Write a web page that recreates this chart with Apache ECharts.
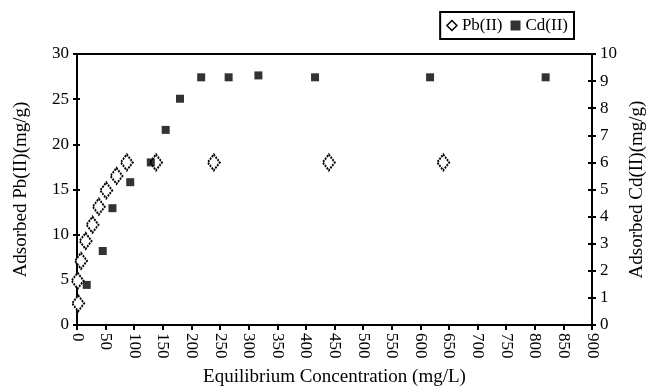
<!DOCTYPE html>
<html><head><meta charset="utf-8">
<script src="https://cdn.jsdelivr.net/npm/echarts@6/dist/echarts.min.js"></script>
<style>html,body{margin:0;padding:0;background:#fff}#c{width:646px;height:389px}</style>
</head><body><div id="c"></div>
<script>
const xTicks = [0,50,100,150,200,250,300,350,400,450,500,550,600,650,700,750,800,850,900];
const pbX = [2,1,7,15,27,38,51,69,87,138,239,440,640];
const pbY = [2.4,4.9,7.1,9.3,11.1,13.1,14.9,16.5,18.0,18.0,18.0,18.0,18.0];
const cdX = [17,45,62,93,129,155,180,217,265,317,416,617,819];
const cdY = [1.48,2.73,4.31,5.27,6.0,7.2,8.35,9.14,9.14,9.21,9.14,9.14,9.14];

const font = 'Liberation Serif';
const chart = echarts.init(document.getElementById('c'));
const tickStyle = {color:'#000',width:2};
chart.setOption({
  animation:false,
  textStyle:{fontFamily:font,color:'#000'},
  grid:{left:77,right:54,top:54,bottom:64,containLabel:false,outerBoundsMode:'none',
    show:true,borderColor:'#000',borderWidth:2,backgroundColor:'transparent'},
  legend:{
    top:12,right:72,orient:'horizontal',
    borderColor:'#000',borderWidth:2,padding:[5,6],itemGap:8,
    itemWidth:10,itemHeight:10,
    textStyle:{fontFamily:font,fontSize:17,color:'#000'},
    data:[{name:'Pb(II)',icon:'diamond',itemStyle:{color:'#fff',borderColor:'#000',borderWidth:1.5}},
          {name:'Cd(II)',icon:'rect'}]
  },
  xAxis:{
    type:'value',min:0,max:900,interval:50,
    name:'Equilibrium Concentration (mg/L)',nameLocation:'middle',nameGap:43,
    nameTextStyle:{fontFamily:font,fontSize:19,color:'#000'},
    axisLine:{lineStyle:{color:'#000',width:2}},
    axisTick:{show:true,length:5,lineStyle:tickStyle},
    axisLabel:{rotate:-90,fontFamily:font,fontSize:17,color:'#000',margin:8,
      formatter:v=>xTicks.includes(v)?String(v):''},
    splitLine:{show:false}
  },
  yAxis:[{
    type:'value',min:0,max:30,interval:5,position:'left',
    name:'Adsorbed Pb(II)(mg/g)',nameLocation:'middle',nameGap:46,nameRotate:90,
    nameTextStyle:{fontFamily:font,fontSize:19,color:'#000'},
    axisLine:{show:true,lineStyle:{color:'#000',width:2}},
    axisTick:{show:true,length:4,lineStyle:tickStyle},
    axisLabel:{fontFamily:font,fontSize:17,color:'#000',margin:8},
    splitLine:{show:false}
  },{
    type:'value',min:0,max:10,interval:1,position:'right',
    name:'Adsorbed Cd(II)(mg/g)',nameLocation:'middle',nameGap:33,nameRotate:90,
    nameTextStyle:{fontFamily:font,fontSize:19,color:'#000'},
    axisLine:{show:true,lineStyle:{color:'#000',width:2}},
    axisTick:{show:true,length:4,lineStyle:tickStyle},
    axisLabel:{fontFamily:font,fontSize:17,color:'#000',margin:8},
    splitLine:{show:false}
  },{
    type:'value',min:0,max:10,interval:1,position:'right',
    axisLine:{show:false},axisLabel:{show:false},splitLine:{show:false},
    axisTick:{show:true,inside:true,length:4,lineStyle:tickStyle}
  },{
    type:'value',min:0,max:30,interval:5,position:'left',
    axisLine:{show:false},axisLabel:{show:false},splitLine:{show:false},
    axisTick:{show:true,inside:true,length:3,lineStyle:tickStyle}
  }],
  series:[{
    name:'Pb(II)',type:'scatter',yAxisIndex:0,
    symbol:'diamond',symbolSize:[12,16],
    itemStyle:{color:'#fff',borderColor:'#000',borderWidth:2,borderType:[2,1],opacity:1},
    data:pbX.map((x,i)=>[x,pbY[i]])
  },{
    name:'Cd(II)',type:'scatter',yAxisIndex:1,
    symbol:'rect',symbolSize:8,
    itemStyle:{color:'#000'},
    data:cdX.map((x,i)=>[x,cdY[i]])
  }]
});
</script></body></html>
